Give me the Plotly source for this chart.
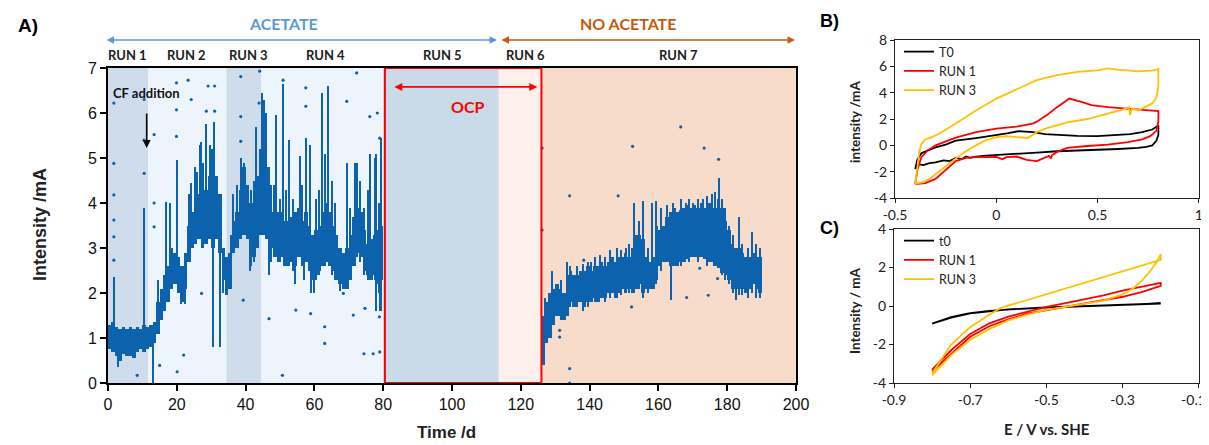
import plotly.graph_objects as go

# The page body adds an 8 px margin at the top-left, so the figure is made 8 px smaller
# and every reference pixel position is shifted by 8 px.
PAGE_W, PAGE_H, BODY_MARGIN = 1209, 445, 8
W, H = PAGE_W - BODY_MARGIN, PAGE_H - BODY_MARGIN

# ---------------- Panel A data ----------------
acetate_days = list(range(0, 80))
acetate_low = [0.75, 0.7, 0.6, 0.5, 0.65, 0.6, 0.6, 0.55, 0.7, 0.75,
               0.7, 0.75, 0.8, 0.9, 1.1, 1.4, 1.6, 1.8, 2.1, 2.2,
               2.0, 1.8, 2.1, 2.7, 3.0, 3.1, 3.2, 3.0, 3.1, 3.2,
               3.0, 3.2, 2.9, 2.3, 1.95, 2.1, 2.9, 3.0, 3.2, 3.3,
               3.2, 3.0, 2.8, 3.0, 3.3, 3.4, 3.2, 3.0, 2.8, 2.7,
               2.8, 2.6, 2.6, 2.7, 2.6, 2.8, 2.6, 2.7, 2.5, 2.3,
               2.4, 2.5, 2.6, 2.7, 2.6, 2.5, 2.3, 2.2, 2.1, 2.1,
               2.3, 2.6, 2.9, 2.8, 2.5, 2.4, 2.3, 2.4, 2.2, 2.3]
acetate_high = [1.3, 1.35, 1.25, 1.2, 1.25, 1.2, 1.25, 1.2, 1.25, 1.2,
                1.3, 1.25, 1.3, 1.35, 1.8, 2.1, 2.4, 2.6, 3.0, 2.9,
                2.8, 2.6, 2.9, 3.5, 3.8, 4.0, 4.2, 4.4, 4.3, 4.6,
                4.5, 4.6, 4.2, 3.0, 2.8, 2.9, 3.6, 3.8, 4.3, 4.8,
                4.4, 4.0, 4.0, 4.6, 5.2, 5.6, 4.8, 3.8, 3.6, 3.8,
                3.8, 3.6, 3.6, 3.7, 3.8, 3.9, 3.6, 3.8, 3.5, 3.3,
                3.4, 3.5, 3.8, 4.0, 3.8, 3.5, 3.3, 3.0, 2.9, 3.0,
                3.3, 3.7, 3.9, 3.8, 3.4, 3.1, 3.2, 3.3, 3.4, 3.5]

noacetate_days = list(range(126, 190))
noacetate_low = [0.4, 0.9, 1.0, 1.3, 1.5, 1.5, 1.4, 1.5, 1.8, 1.7,
                 1.8, 1.8, 1.7, 1.8, 1.8, 1.9, 1.8, 1.9, 1.9, 2.0,
                 2.0, 1.9, 2.0, 2.1, 2.0, 2.1, 2.0, 2.1, 2.2, 2.0,
                 2.1, 2.1, 2.1, 2.3, 2.6, 2.7, 2.7, 2.6, 2.6, 2.6,
                 2.7, 2.7, 2.75, 2.8, 2.8, 2.8, 2.8, 2.75, 2.7, 2.7,
                 2.6, 2.55, 2.45, 2.4, 2.3, 2.1, 2.1, 2.1, 2.1, 2.0,
                 2.1, 2.2, 2.1, 2.0]
noacetate_high = [1.5, 1.8, 2.0, 2.1, 2.2, 2.1, 2.0, 2.4, 2.5, 2.4,
                  2.4, 2.5, 2.5, 2.6, 2.5, 2.6, 2.6, 2.7, 2.6, 2.7,
                  2.8, 2.7, 2.8, 2.8, 2.9, 2.8, 3.0, 3.3, 3.3, 3.2,
                  2.8, 2.7, 2.8, 3.5, 3.4, 3.5, 3.7, 3.8, 3.85, 3.8,
                  3.85, 3.9, 3.95, 3.9, 3.95, 3.9, 4.0, 3.9, 4.0, 4.0,
                  3.9, 4.1, 3.9, 3.6, 3.4, 3.1, 3.0, 3.0, 2.9, 2.8,
                  2.8, 2.9, 2.8, 2.8]

# narrow excursions (day, low, high)
spike_t = [1.7, 10.6, 13.1, 3.0, 18.2, 20.1, 24.2, 25.2, 26.7, 27.2,
           28.6, 29.8, 30.6, 31.0, 32.7, 36.5, 38.8, 43.2, 44.8, 45.3,
           46.1, 49.0, 50.8, 52.7, 55.8, 57.7, 58.7, 59.2, 62.4, 64.0,
           69.4, 71.8, 72.3, 76.2, 77.6, 78.1, 79.5,
           14.5, 16.9, 22.5, 23.6, 26.0, 27.8, 30.2, 33.4, 35.8, 37.5,
           39.6, 41.5, 42.6, 47.5, 48.3, 50.0, 51.8, 53.8, 56.5, 60.5,
           61.3, 63.2, 65.2, 66.0, 70.5, 73.2, 74.5, 75.5, 78.8,
           21.2, 41.2, 47.0, 54.5, 57.0, 60.0, 67.5, 79.2,
           129.0, 133.6, 140.5, 143.0, 148.0, 150.5, 152.9, 154.5, 155.6, 159.5,
           162.5, 163.6, 165.0, 168.0, 170.0, 173.0, 175.5, 177.6, 180.5, 183.5, 187.4,
           127.0, 131.8, 134.5, 136.4, 138.0, 139.5, 141.6, 144.5, 146.0, 149.2,
           151.5, 157.0, 158.2, 160.8, 164.2, 166.5, 169.0, 171.5, 174.2, 176.5,
           178.5, 179.5, 181.6, 182.6, 184.5, 186.0, 188.5, 189.6]
spike_low = [1.0, 1.0, 0.0, 0.35, 2.4, 2.2, 3.2, 3.3, 3.3, 3.2,
             3.2, 3.3, 0.8, 3.3, 0.8, 2.9, 3.3, 3.0, 3.3, 3.3,
             3.2, 2.8, 2.8, 2.7, 2.8, 2.7, 2.6, 2.0, 2.6, 2.7,
             2.2, 2.6, 2.8, 2.4, 2.3, 1.6, 1.6,
             1.2, 1.8, 1.75, 2.8, 3.2, 3.0, 3.2, 2.0, 2.2, 3.0,
             3.3, 2.6, 2.7, 2.7, 2.8, 2.7, 2.6, 2.5, 2.6, 2.3,
             2.4, 2.6, 2.4, 2.3, 2.3, 2.7, 2.4, 2.3, 2.0,
             1.75, 2.5, 2.4, 2.2, 2.3, 2.0, 2.05, 1.6,
             1.3, 1.5, 1.8, 1.9, 1.9, 2.0, 2.0, 2.1, 1.9, 2.2,
             2.7, 1.85, 2.7, 2.8, 2.8, 2.8, 2.7, 2.6, 2.2, 1.95, 2.0,
             0.9, 1.4, 1.7, 1.7, 1.6, 1.7, 1.8, 1.8, 1.9, 1.95,
             2.0, 2.0, 2.1, 2.5, 2.6, 2.6, 2.7, 2.7, 2.6, 2.6,
             2.4, 2.3, 2.0, 1.84, 1.95, 1.9, 1.9, 1.9]
spike_high = [2.35, 3.9, 1.2, 1.0, 4.0, 4.95, 4.45, 4.8, 5.3, 5.35,
              5.75, 5.3, 3.5, 5.8, 3.0, 4.2, 5.0, 5.7, 6.45, 6.3,
              6.0, 5.95, 6.65, 5.4, 5.05, 5.45, 5.3, 3.0, 6.45, 6.6,
              4.9, 4.9, 4.9, 5.1, 5.0, 5.1, 5.45,
              2.3, 4.03, 2.9, 4.2, 4.7, 4.9, 5.2, 2.9, 3.3, 4.4,
              4.9, 4.3, 4.5, 4.4, 4.4, 4.1, 4.3, 4.1, 4.4, 4.1,
              4.3, 5.1, 4.5, 4.0, 3.9, 4.5, 3.9, 4.3, 4.0,
              2.5, 3.2, 3.2, 3.0, 3.0, 2.8, 2.6, 2.8,
              2.5, 2.7, 2.7, 2.85, 3.0, 3.0, 4.0, 3.6, 4.05, 4.05,
              3.95, 3.5, 3.9, 4.0, 4.0, 4.1, 4.2, 4.55, 3.5, 3.7, 3.35,
              1.9, 2.3, 2.6, 2.6, 2.65, 2.7, 2.8, 2.8, 2.95, 2.95,
              3.1, 3.0, 4.0, 3.9, 4.0, 4.1, 4.1, 4.1, 4.15, 4.25,
              4.1, 3.9, 3.3, 3.0, 3.1, 3.0, 3.1, 3.0]

outlier_t = [1.7, 1.7, 1.7, 1.7, 1.7, 1.7, 10.5, 10.5, 10.5, 13.4, 13.4, 13.4,
             15.0, 8.5, 19.9, 19.9, 19.9, 23.3, 24.2, 22.0, 20.1, 29.1, 31.0,
             27.2, 28.6, 31.0, 38.6, 38.6, 38.6, 39.3, 44.1, 43.9, 50.9, 46.8,
             50.7, 57.5, 57.5, 54.6, 58.9, 63.0, 63.0, 72.3, 69.4, 76.1, 78.3,
             74.4, 77.1, 79.0, 74.7, 79.0, 78.9, 71.3, 68.4,
             126.2, 126.2, 134.2, 134.2, 134.2, 138.3, 148.3, 152.5, 166.5, 173.3,
             177.5, 168.2, 174.5, 177.2, 172.0, 152.2, 131.3, 131.3]
outlier_y = [6.22, 4.88, 4.18, 3.62, 3.25, 2.73, 5.4, 4.66, 6.3, 5.52, 4.0, 3.47,
             0.39, 0.17, 6.67, 6.07, 5.48, 6.73, 6.3, 0.62, 0.25, 6.6, 6.6,
             1.99, 6.04, 6.04, 6.81, 5.92, 5.37, 1.84, 6.93, 6.22, 6.73, 1.43,
             0.17, 6.56, 6.15, 1.62, 1.54, 0.88, 1.25, 6.89, 6.26, 5.92, 6.0,
             0.65, 0.65, 0.69, 1.66, 5.44, 1.47, 1.51, 1.99,
             5.22, 3.4, 4.16, 0.32, 0.0, 2.73, 4.16, 5.26, 5.69, 5.22,
             4.97, 1.9, 1.95, 2.32, 2.55, 1.69, 1.17, 1.02]

band_start = [0, 11.7, 34.4, 44.6, 80, 113.6, 126]
band_end = [11.7, 34.4, 44.6, 80, 113.6, 126, 200]
run_names = ["RUN 1", "RUN 2", "RUN 3", "RUN 4", "RUN 5", "RUN 6", "RUN 7"]
run_label_t = [5.8, 22.9, 40.7, 63.1, 97.1, 121.5, 165.7]
ocp_start, ocp_end = 80.5, 126.0
cf_addition_day = 11.25

a_x_ticks = [0, 20, 40, 60, 80, 100, 120, 140, 160, 180, 200]
a_y_ticks = [0, 1, 2, 3, 4, 5, 6, 7]

# ---------------- Panel B data ----------------
b_t0_E = [-0.40, -0.39, -0.37, -0.34, -0.30, -0.25, -0.20, -0.10, 0.00, 0.06,
          0.11, 0.18, 0.24, 0.32, 0.40, 0.50, 0.58, 0.66, 0.72, 0.77,
          0.80, 0.80, 0.79, 0.77, 0.74, 0.70, 0.60, 0.50, 0.40, 0.30,
          0.20, 0.10, 0.00, -0.05, -0.10, -0.13, -0.15, -0.17, -0.20, -0.23,
          -0.26, -0.30, -0.33, -0.36, -0.38, -0.40]
b_t0_I = [-1.8, -1.1, -0.6, -0.4, -0.15, 0.05, 0.35, 0.55, 0.75, 0.92,
          1.08, 1.0, 0.85, 0.78, 0.72, 0.7, 0.75, 0.85, 1.0, 1.2,
          1.5, 0.8, 0.35, 0.0, -0.12, -0.2, -0.28, -0.33, -0.4, -0.45,
          -0.55, -0.62, -0.7, -0.78, -0.85, -0.95, -0.85, -1.05, -0.95, -1.2,
          -1.15, -1.3, -1.35, -1.5, -1.45, -1.8]
b_run1_E = [-0.40, -0.39, -0.37, -0.34, -0.30, -0.25, -0.20, -0.10, 0.00, 0.10,
            0.18, 0.20, 0.25, 0.30, 0.36, 0.42, 0.47, 0.55, 0.65, 0.75,
            0.80, 0.80, 0.79, 0.76, 0.72, 0.65, 0.55, 0.45, 0.35, 0.30,
            0.275, 0.27, 0.26, 0.20, 0.15, 0.10, 0.05, 0.03, 0.00, -0.10,
            -0.15, -0.20, -0.25, -0.30, -0.35, -0.40]
b_run1_I = [-2.95, -1.9, -0.9, -0.4, 0.0, 0.3, 0.58, 1.0, 1.27, 1.42,
            1.65, 1.8, 2.3, 2.9, 3.55, 3.3, 3.05, 2.9, 2.8, 2.65,
            2.6, 1.8, 1.1, 0.7, 0.45, 0.25, 0.05, -0.05, -0.2, -0.5,
            -0.75, -1.0, -0.8, -1.2, -1.1, -0.85, -0.9, -1.05, -0.88, -0.9,
            -0.95, -1.2, -1.9, -2.55, -2.87, -2.95]
b_run3_E = [-0.40, -0.39, -0.38, -0.37, -0.35, -0.32, -0.28, -0.20, -0.10, 0.00,
            0.10, 0.20, 0.30, 0.40, 0.50, 0.55, 0.60, 0.70, 0.78, 0.80,
            0.80, 0.79, 0.77, 0.73, 0.70, 0.67, 0.66, 0.655, 0.62, 0.55,
            0.45, 0.35, 0.25, 0.20, 0.155, 0.10, 0.05, 0.00, -0.05, -0.10,
            -0.15, -0.20, -0.25, -0.30, -0.33, -0.36, -0.40]
b_run3_I = [-2.9, -1.5, -0.5, 0.1, 0.45, 0.6, 0.9, 1.65, 2.65, 3.55,
            4.24, 4.95, 5.33, 5.58, 5.7, 5.85, 5.75, 5.62, 5.7, 5.8,
            4.5, 3.6, 3.2, 2.85, 2.65, 2.8, 2.3, 2.9, 2.7, 2.4,
            2.0, 1.75, 1.3, 1.0, 0.56, 0.62, 0.7, 0.63, 0.4, 0.0,
            -0.45, -1.0, -1.6, -2.16, -2.55, -2.8, -2.92]

b_x_ticks = [-0.5, 0, 0.5, 1]
b_x_labels = ["-0.5", "0", "0.5", "1"]
b_y_ticks = [-4, -2, 0, 2, 4, 6, 8]
b_y_labels = ["-4", "-2", "0", "2", "4", "6", "8"]

# ---------------- Panel C data ----------------
c_t0_E = [-0.80, -0.77, -0.75, -0.72, -0.70, -0.65, -0.60, -0.55, -0.50, -0.40,
          -0.30, -0.20, -0.20, -0.30, -0.40, -0.50, -0.60, -0.70, -0.75, -0.80]
c_t0_I = [-0.92, -0.7, -0.58, -0.45, -0.37, -0.25, -0.17, -0.12, -0.07, 0.0,
          0.07, 0.13, 0.12, 0.05, -0.02, -0.08, -0.18, -0.38, -0.6, -0.92]
c_run1_E = [-0.80, -0.75, -0.70, -0.65, -0.60, -0.55, -0.50, -0.45, -0.40, -0.35,
            -0.30, -0.25, -0.21, -0.20, -0.20, -0.22, -0.25, -0.30, -0.35, -0.40,
            -0.45, -0.50, -0.55, -0.60, -0.65, -0.70, -0.75, -0.80]
c_run1_I = [-3.3, -2.3, -1.45, -0.9, -0.55, -0.3, -0.05, 0.15, 0.35, 0.55,
            0.8, 1.0, 1.18, 1.2, 1.05, 0.92, 0.72, 0.48, 0.3, 0.12,
            -0.05, -0.2, -0.4, -0.7, -1.05, -1.6, -2.5, -3.4]
c_run3_E = [-0.80, -0.75, -0.70, -0.65, -0.60, -0.55, -0.50, -0.45, -0.40, -0.35,
            -0.30, -0.27, -0.25, -0.23, -0.21, -0.20, -0.20, -0.21, -0.30, -0.40,
            -0.48, -0.55, -0.62, -0.65, -0.70, -0.75, -0.80]
c_run3_I = [-3.6, -2.55, -1.75, -1.2, -0.75, -0.45, -0.2, -0.05, 0.1, 0.28,
            0.6, 0.95, 1.3, 1.75, 2.3, 2.7, 2.4, 2.34, 1.8, 1.22,
            0.74, 0.3, -0.1, -0.45, -1.1, -2.0, -3.5]

c_x_ticks = [-0.9, -0.7, -0.5, -0.3, -0.1]
# the last label carries trailing no-break spaces so that it stays inside the page
c_x_labels = ["-0.9", "-0.7", "-0.5", "-0.3", "-0.1\u00a0\u00a0\u00a0"]
c_y_ticks = [-4, -2, 0, 2, 4]
c_y_labels = ["-4", "-2", "0", "2", "4"]

# ---------------- styles ----------------
BLUE = "#0d62ad"
band_colors = ["#cedcec", "#eef4fb", "#cedcec", "#eef4fb", "#c9dae9", "#fdf0ea", "#f7dccb"]
ARIAL = "Liberation Sans, Arial, sans-serif"
CAL = "Lato, Carlito, sans-serif"


def px(p):
    return (p - BODY_MARGIN) / W


def py(p):
    return 1 - (p - BODY_MARGIN) / H


fig = go.Figure()

all_days = acetate_days + noacetate_days
all_low = acetate_low + noacetate_low
all_high = acetate_high + noacetate_high
fig.add_trace(go.Bar(
    x=[d + 0.5 for d in all_days], base=all_low,
    y=[h - l for l, h in zip(all_low, all_high)],
    width=1.0, marker=dict(color=BLUE, line=dict(width=0)),
    xaxis="x", yaxis="y", showlegend=False, hoverinfo="skip"))
fig.add_trace(go.Bar(
    x=spike_t, base=spike_low,
    y=[h - l for l, h in zip(spike_low, spike_high)],
    width=0.4, marker=dict(color=BLUE, line=dict(width=0)),
    xaxis="x", yaxis="y", showlegend=False, hoverinfo="skip"))
fig.add_trace(go.Scatter(
    x=outlier_t, y=outlier_y, mode="markers",
    marker=dict(color=BLUE, size=3.2),
    xaxis="x", yaxis="y", showlegend=False, hoverinfo="skip"))

for E, I, name, col in [(b_t0_E, b_t0_I, "T0", "#000000"),
                        (b_run1_E, b_run1_I, "RUN 1", "#ff0000"),
                        (b_run3_E, b_run3_I, "RUN 3", "#ffc000")]:
    fig.add_trace(go.Scatter(x=E, y=I, mode="lines", name=name,
                             line=dict(color=col, width=1.8),
                             xaxis="x2", yaxis="y2", legend="legend"))
for E, I, name, col in [(c_t0_E, c_t0_I, "t0", "#000000"),
                        (c_run1_E, c_run1_I, "RUN 1", "#ff0000"),
                        (c_run3_E, c_run3_I, "RUN 3", "#ffc000")]:
    fig.add_trace(go.Scatter(x=E, y=I, mode="lines", name=name,
                             line=dict(color=col, width=1.8),
                             xaxis="x3", yaxis="y3", legend="legend2"))

shapes = []
for s, e, c in zip(band_start, band_end, band_colors):
    shapes.append(dict(type="rect", xref="x", yref="y", x0=s, x1=e, y0=0, y1=7,
                       fillcolor=c, line=dict(width=0), layer="below"))
shapes.append(dict(type="rect", xref="x", yref="y", x0=ocp_start, x1=ocp_end, y0=0, y1=7,
                   fillcolor="rgba(0,0,0,0)", line=dict(color="#ff0000", width=2), layer="above"))


def label(text, x, y, size, color, family, xref="paper", yref="paper", angle=0):
    return dict(text=text, x=x, y=y, xref=xref, yref=yref, showarrow=False,
                xanchor="center", yanchor="middle", textangle=angle,
                font=dict(family=family, size=size, color=color))


ann = []
ann.append(label("<b>A)</b>", px(28), py(26), 19, "black", ARIAL))
ann.append(label("<b>B)</b>", px(829), py(21), 18, "black", ARIAL))
ann.append(label("<b>C)</b>", px(829), py(228), 18, "black", ARIAL))
ann.append(label("<b>ACETATE</b>", px(283), py(23), 16, "#5b9bd5", CAL))
ann.append(label("<b>NO ACETATE</b>", px(628), py(23), 16, "#c55a11", CAL))
ann.append(dict(text="", x=113.1, y=py(40), xref="x", yref="paper",
                ax=-392, ay=0, axref="pixel", ayref="pixel", showarrow=True,
                arrowhead=2, arrowside="end+start", arrowsize=1, arrowwidth=1.5,
                arrowcolor="#5b9bd5"))
ann.append(dict(text="", x=199.7, y=py(40), xref="x", yref="paper",
                ax=-295, ay=0, axref="pixel", ayref="pixel", showarrow=True,
                arrowhead=2, arrowside="end+start", arrowsize=1, arrowwidth=1.5,
                arrowcolor="#c55a11"))
for name, t in zip(run_names, run_label_t):
    ann.append(label("<b>" + name + "</b>", t, py(55), 13, "#222222", CAL, xref="x"))
ann.append(label("<b>CF addition</b>", cf_addition_day, 6.44, 13, "#111111", CAL,
                 xref="x", yref="y"))
ann.append(dict(text="", x=cf_addition_day, y=5.22, xref="x", yref="y",
                ax=cf_addition_day, ay=6.02, axref="x", ayref="y", showarrow=True,
                arrowhead=2, arrowsize=1, arrowwidth=1.6, arrowcolor="black"))
ann.append(dict(text="", x=124.8, y=6.58, xref="x", yref="y",
                ax=82.8, ay=6.58, axref="x", ayref="y", showarrow=True,
                arrowhead=2, arrowside="end+start", arrowsize=1, arrowwidth=1.6,
                arrowcolor="#ff0000"))
ann.append(label("<b>OCP</b>", 104.7, 6.15, 16, "#ff0000", CAL, xref="x", yref="y"))
ann.append(label("<b>Intensity /mA</b>", px(40), py(225), 18, "#222222", ARIAL, angle=-90))
ann.append(label("<b>Time /d</b>", px(447), py(432), 17, "#222222", ARIAL))
ann.append(label("<b>intensity /mA</b>", px(855), py(122), 13.5, "#222222", CAL, angle=-90))
ann.append(label("<b>Intensity / mA</b>", px(855), py(311), 13.5, "#222222", CAL, angle=-90))
ann.append(label("<b>E / V vs. SHE</b>", px(1047), py(429), 15, "#222222", CAL))

axA = dict(showline=True, linecolor="black", linewidth=2, mirror=True, ticks="outside",
           ticklen=6, tickwidth=2, tickcolor="black", showgrid=False, zeroline=False,
           automargin=False, ticklabeloverflow="allow",
           tickfont=dict(family=ARIAL, size=16, color="#111111"))
axS = dict(showline=True, linecolor="#222222", linewidth=1.2, mirror=True, ticks="outside",
           ticklen=4, tickwidth=1, tickcolor="#222222", showgrid=False, zeroline=False,
           automargin=False, ticklabeloverflow="allow",
           tickfont=dict(family=CAL, size=14, color="#222222"))

fig.update_layout(
    width=W, height=H, autosize=False,
    margin=dict(l=0, r=0, t=0, b=0, autoexpand=False),
    paper_bgcolor="white", plot_bgcolor="white",
    barmode="overlay", bargap=0,
    xaxis=dict(axA, domain=[px(108), px(796)], range=[0, 200], tickvals=a_x_ticks,
               anchor="y"),
    yaxis=dict(axA, domain=[py(383), py(68)], range=[0, 7], tickvals=a_y_ticks,
               anchor="x"),
    xaxis2=dict(axS, domain=[px(895), px(1199)], range=[-0.5, 1.0005], tickvals=b_x_ticks,
                ticktext=b_x_labels, anchor="y2"),
    yaxis2=dict(axS, domain=[py(198), py(40)], range=[-4, 8], tickvals=b_y_ticks,
                ticktext=b_y_labels, anchor="x2"),
    xaxis3=dict(axS, domain=[px(894), px(1199)], range=[-0.9, -0.0995], tickvals=c_x_ticks,
                ticktext=c_x_labels, anchor="y3"),
    yaxis3=dict(axS, domain=[py(383), py(229)], range=[-4, 4], tickvals=c_y_ticks,
                ticktext=c_y_labels, anchor="x3"),
    legend=dict(x=px(899), y=py(37), xanchor="left", yanchor="top",
                bgcolor="rgba(0,0,0,0)", font=dict(family=CAL, size=12.5, color="#222222"),
                itemwidth=30, tracegroupgap=0),
    legend2=dict(x=px(899), y=py(226), xanchor="left", yanchor="top",
                 bgcolor="rgba(0,0,0,0)", font=dict(family=CAL, size=12.5, color="#222222"),
                 itemwidth=30, tracegroupgap=0),
    shapes=shapes, annotations=ann,
)

fig.write_html("out.html")
